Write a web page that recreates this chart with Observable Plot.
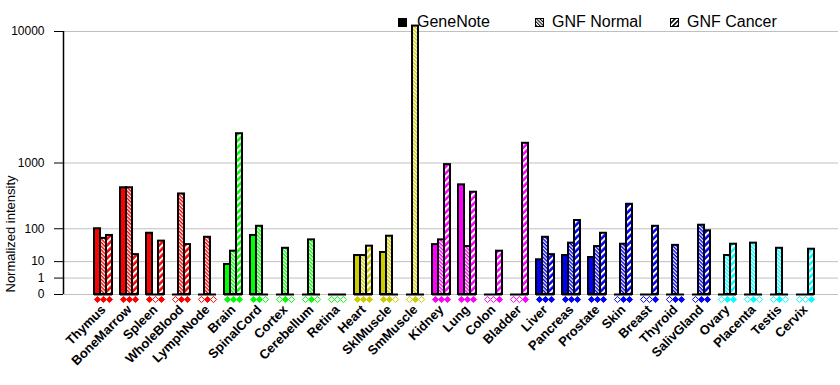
<!DOCTYPE html>
<html><head><meta charset="utf-8">
<script src="https://cdn.jsdelivr.net/npm/d3@7"></script>
<script src="https://cdn.jsdelivr.net/npm/@observablehq/plot@0.6"></script>
<style>
body{margin:0;background:#fff;font-family:Arial,"Liberation Sans",sans-serif}
#wrap{position:relative;width:840px;height:385px;overflow:hidden;background:#fff}
#wrap svg.plotlayer{position:absolute;left:0;top:0}
.lg{position:absolute;font-size:16px;line-height:16px;color:#000;white-space:nowrap;top:13.5px}
.ic{position:absolute;top:18px;width:9px;height:9px}
</style></head><body>
<svg width="0" height="0" style="position:absolute">
<defs>
<pattern id="hatchN" patternUnits="userSpaceOnUse" width="2.6" height="2.6" patternTransform="rotate(-45)"><rect x="0" y="0" width="1.2" height="2.6" fill="#fff"/></pattern>
<pattern id="hatchC" patternUnits="userSpaceOnUse" width="4.6" height="4.6" patternTransform="rotate(45)"><rect x="0" y="0" width="2" height="4.6" fill="#fff"/></pattern>
<pattern id="legN" patternUnits="userSpaceOnUse" width="2.4" height="2.4" patternTransform="rotate(-45)"><rect x="0" y="0" width="1" height="2.4" fill="#000"/></pattern>
<pattern id="legC" patternUnits="userSpaceOnUse" width="3.4" height="3.4" patternTransform="rotate(45)"><rect x="0" y="0" width="1.6" height="3.4" fill="#000"/></pattern>
</defs></svg>
<div id="wrap">
  <svg class="ic" style="left:398px"><rect width="9" height="9" fill="#000"/></svg>
  <div class="lg" style="left:417px">GeneNote</div>
  <svg class="ic" style="left:535px"><rect x="0.5" y="0.5" width="8" height="8" fill="url(#legN)" stroke="#000"/></svg>
  <div class="lg" style="left:552px">GNF Normal</div>
  <svg class="ic" style="left:670px"><rect x="0.5" y="0.5" width="8" height="8" fill="url(#legC)" stroke="#000"/></svg>
  <div class="lg" style="left:687px">GNF Cancer</div>
</div>
<script>
const tissues = ["Thymus","BoneMarrow","Spleen","WholeBlood","LymphNode","Brain","SpinalCord","Cortex","Cerebellum","Retina","Heart","SklMuscle","SmMuscle","Kidney","Lung","Colon","Bladder","Liver","Pancreas","Prostate","Skin","Breast","Thyroid","SalivGland","Ovary","Placenta","Testis","Cervix"];
const tissueColors = ["#ff0000","#ff0000","#ff0000","#ff0000","#ff0000",
  "#00ff00","#00ff00","#00ff00","#00ff00","#00ff00",
  "#cccc00","#cccc00","#cccc00",
  "#ff00ff","#ff00ff","#ff00ff","#ff00ff",
  "#0000ff","#0000ff","#0000ff","#0000ff","#0000ff","#0000ff","#0000ff",
  "#00ffff","#00ffff","#00ffff","#00ffff"];
const seriesNames = ["GeneNote","GNF Normal","GNF Cancer"];
const geneNote  = [100,500,79,0,0,7.4,70,0,0,0,17.6,22.6,0,40,547,0,0,12,17.6,14.8,0,0,0,0,0,0,0,0];
const gnfNormal = [59,500,0,410,63,25,113,31,54,0,17.6,67,10700,54,35,0,0,63,44,35,41,0,38,119,17.6,44,31,0];
const gnfCancer = [70,19,50,40,0,1950,0,0,0,0,36,0,0,960,434,25,1590,19,148,79,286,113,0,90,41,0,0,29];
// presence calls: F = filled diamond (present), O = open diamond
const calls = ["FFF","FFF","FOF","OFF","OFO","FFF","FFO","OFO","OFO","OOO","FFF","FFO","OFO","FFF","FFF","OOF","OOF","FFF","FFF","FFF","OFF","OOF","OFF","OFF","OFF","OFO","OFO","OOF"];
const yTicks = [0,1,10,100,1000,10000];

const rows = [];
tissues.forEach((t,i)=>{
  [geneNote,gnfNormal,gnfCancer].forEach((arr,j)=>{
    rows.push({tissue:t, series:seriesNames[j], value:arr[i], color:tissueColors[i], present:calls[i][j]==="F"});
  });
});

const W=840,H=385,MT=31,MB=91;
const ySc = {type:"pow", exponent:Math.log10(2), domain:[0,10000]};
const font = 'Arial, "Liberation Sans", sans-serif';

const bg = Plot.plot({
  width:W, height:H, marginTop:MT, marginBottom:MB, marginLeft:63, marginRight:2,
  style:{fontFamily:font, fontSize:"12px", background:"transparent", color:"#000"},
  x:{domain:[0,1], axis:null},
  y:{...ySc, axis:null},
  marks:[
    Plot.ruleY(yTicks,{stroke:"#c0c0c0", strokeWidth:1}),
    Plot.axisY(yTicks,{tickSize:9, tickPadding:10, tickFormat:d=>String(d), label:null, fontSize:12, stroke:"#000"}),
    Plot.ruleX([0],{stroke:"#000", strokeWidth:1.5}),
    Plot.text(["Normalized intensity"],{frameAnchor:"bottom-left", rotate:-90, textAnchor:"start", dx:-49, dy:-2, fontSize:13, fill:"#000"})
  ]
});

const fg = Plot.plot({
  width:W, height:H, marginTop:MT, marginBottom:MB, marginLeft:87, marginRight:20,
  style:{fontFamily:font, fontSize:"13px", fontWeight:"bold", background:"transparent", color:"#000", overflow:"visible"},
  facet:{data:rows, x:"tissue"},
  fx:{domain:tissues, padding:0, label:null, axis:"bottom", tickRotate:-45, tickSize:0, tickPadding:13},
  x:{domain:seriesNames, paddingInner:0, paddingOuter:0.37, axis:null},
  y:{...ySc, axis:null},
  color:{type:"identity"},
  marks:[
    Plot.tickY(rows,{x:"series", y:0, stroke:"#000", strokeWidth:2}),
    Plot.barY(rows,{filter:d=>d.value>0, x:"series", y:"value", fill:"color"}),
    Plot.barY(rows,{filter:d=>d.value>0 && d.series!=="GeneNote", x:"series", y:"value", fill:d=>d.series==="GNF Normal"?"url(#hatchN)":"url(#hatchC)"}),
    Plot.barY(rows,{filter:d=>d.value>0, x:"series", y:"value", fill:"none", stroke:"#000", strokeWidth:2}),
    Plot.dot(rows,{x:"series", y:0, dy:5, symbol:"diamond2", r:2.8, stroke:"color", fill:d=>d.present?d.color:"#fff", strokeWidth:1})
  ]
});

const wrap = document.getElementById("wrap");
bg.classList.add("plotlayer"); fg.classList.add("plotlayer");
wrap.insertBefore(fg, wrap.firstChild);
wrap.insertBefore(bg, wrap.firstChild);
</script>
</body></html>
